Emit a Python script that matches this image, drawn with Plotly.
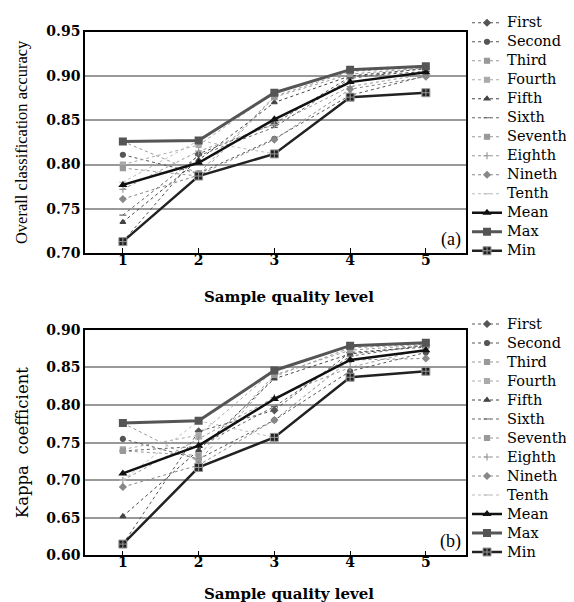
import plotly.graph_objects as go

levels = [1, 2, 3, 4, 5]
run_names = ["First", "Second", "Third", "Fourth", "Fifth", "Sixth",
             "Seventh", "Eighth", "Nineth", "Tenth"]

# Overall classification accuracy (panel a)
oa_runs = [
    [0.713, 0.812, 0.846, 0.899, 0.905],
    [0.811, 0.790, 0.829, 0.878, 0.900],
    [0.826, 0.790, 0.877, 0.905, 0.910],
    [0.800, 0.822, 0.881, 0.907, 0.911],
    [0.735, 0.805, 0.870, 0.900, 0.908],
    [0.743, 0.810, 0.842, 0.897, 0.909],
    [0.796, 0.787, 0.876, 0.902, 0.909],
    [0.772, 0.815, 0.845, 0.888, 0.902],
    [0.761, 0.788, 0.828, 0.885, 0.899],
    [0.780, 0.827, 0.812, 0.876, 0.881],
]
oa_mean = [0.777, 0.802, 0.851, 0.893, 0.904]
oa_max = [0.826, 0.827, 0.881, 0.907, 0.911]
oa_min = [0.713, 0.787, 0.812, 0.876, 0.881]

# Kappa coefficient (panel b)
kappa_runs = [
    [0.615, 0.765, 0.793, 0.870, 0.877],
    [0.755, 0.728, 0.780, 0.845, 0.870],
    [0.776, 0.725, 0.838, 0.876, 0.881],
    [0.741, 0.760, 0.846, 0.879, 0.883],
    [0.652, 0.740, 0.835, 0.868, 0.879],
    [0.739, 0.745, 0.798, 0.865, 0.880],
    [0.739, 0.733, 0.840, 0.873, 0.880],
    [0.700, 0.755, 0.810, 0.850, 0.875],
    [0.691, 0.720, 0.780, 0.860, 0.862],
    [0.700, 0.779, 0.757, 0.837, 0.845],
]
kappa_mean = [0.709, 0.746, 0.808, 0.860, 0.873]
kappa_max = [0.776, 0.779, 0.846, 0.879, 0.883]
kappa_min = [0.615, 0.717, 0.757, 0.837, 0.845]

run_styles = [
    dict(color="#555555", symbol="diamond"),
    dict(color="#555555", symbol="circle"),
    dict(color="#999999", symbol="square-x"),
    dict(color="#aaaaaa", symbol="square"),
    dict(color="#444444", symbol="triangle-up"),
    dict(color="#666666", symbol="line-ew"),
    dict(color="#999999", symbol="square-x"),
    dict(color="#999999", symbol="cross-thin"),
    dict(color="#888888", symbol="diamond"),
    dict(color="#bbbbbb", symbol="line-ew"),
]

SERIF = "DejaVu Serif"
LEG_TXT = "<span style='font-size:14.5px'>{}</span>"
fig = go.Figure()


def add_panel(runs, mean, mx, mn, xa, ya, leg):
    for name, vals, st in zip(run_names, runs, run_styles):
        fig.add_trace(go.Scatter(
            x=levels, y=vals, name=LEG_TXT.format(name), mode="lines+markers",
            xaxis=xa, yaxis=ya, legend=leg,
            line=dict(color=st["color"], width=1, dash="dot"),
            marker=dict(symbol=st["symbol"], size=5, color=st["color"],
                        line=dict(color=st["color"], width=1.2)),
        ))
    fig.add_trace(go.Scatter(
        x=levels, y=mean, name=LEG_TXT.format("Mean"), mode="lines+markers",
        xaxis=xa, yaxis=ya, legend=leg,
        line=dict(color="#111111", width=2.5),
        marker=dict(symbol="triangle-up", size=8, color="#111111")))
    fig.add_trace(go.Scatter(
        x=levels, y=mx, name=LEG_TXT.format("Max"), mode="lines+markers",
        xaxis=xa, yaxis=ya, legend=leg,
        line=dict(color="#555555", width=3),
        marker=dict(symbol="square", size=8, color="#555555")))
    fig.add_trace(go.Scatter(
        x=levels, y=mn, name=LEG_TXT.format("Min"), mode="lines+markers",
        xaxis=xa, yaxis=ya, legend=leg,
        line=dict(color="#222222", width=2.5),
        marker=dict(symbol="square-cross", size=8, color="#222222",
                    line=dict(color="#999999", width=1))))


add_panel(oa_runs, oa_mean, oa_max, oa_min, "x", "y", "legend")
add_panel(kappa_runs, kappa_mean, kappa_max, kappa_min, "x2", "y2", "legend2")

W, H = 574, 602
xdom = [77 / W, 458 / W]
ydom1 = [1 - 243 / H, 1 - 15 / H]
ydom2 = [1 - 554 / H, 1 - 322 / H]

axis_common = dict(showline=True, linecolor="black", linewidth=1.5, mirror=True,
                   zeroline=False,
                   tickfont=dict(family=SERIF, size=14, color="black", weight="bold"))
xcommon = dict(axis_common, range=[0.5, 5.53], tickvals=levels, ticks="inside",
               ticklen=5, tickcolor="black", showgrid=False,
               ticklabelstandoff=-7)
ycommon = dict(axis_common, showgrid=True, gridcolor="#999999", gridwidth=1.5,
               ticks="", tickformat=".2f")

xtitle_font = dict(family=SERIF, size=15, color="black")
panel_font = dict(family="Liberation Serif", size=18, color="black")
legend_common = dict(xanchor="left", yanchor="top",
                     font=dict(family=SERIF, size=12, color="black"),
                     bgcolor="rgba(0,0,0,0)", tracegroupgap=0, itemwidth=30)

fig.update_layout(
    width=W, height=H, margin=dict(l=0, r=0, t=0, b=0),
    paper_bgcolor="white", plot_bgcolor="white",
    xaxis=dict(xcommon, domain=xdom, anchor="y"),
    xaxis2=dict(xcommon, domain=xdom, anchor="y2"),
    yaxis=dict(ycommon, domain=ydom1, anchor="x", range=[0.70, 0.95],
               dtick=0.05,
               title=dict(text="Overall classification accuracy", standoff=15,
                          font=dict(family="Liberation Serif", size=16.5, color="black"))),
    yaxis2=dict(ycommon, domain=ydom2, anchor="x2", range=[0.60, 0.90],
                dtick=0.05,
                title=dict(text="Kappa  coefficient", standoff=14,
                           font=dict(family="DejaVu Serif", size=16.5, color="black"))),
    legend=dict(legend_common, x=459 / W, y=1 + 9 / H),
    legend2=dict(legend_common, x=459 / W, y=1 - 301 / H),
    annotations=[
        dict(text="<b>Sample quality level</b>", x=281 / W, y=1 - 288 / H,
             xref="paper", yref="paper", xanchor="center", yanchor="middle",
             showarrow=False, font=xtitle_font),
        dict(text="<b>Sample quality level</b>", x=281 / W, y=1 - 594 / H,
             xref="paper", yref="paper", xanchor="center", yanchor="middle",
             showarrow=False, font=xtitle_font),
        dict(text="(a)", x=1, y=0, xref="x domain", yref="y domain",
             xanchor="right", yanchor="bottom", xshift=-3, yshift=1, showarrow=False,
             font=panel_font),
        dict(text="(b)", x=1, y=0, xref="x2 domain", yref="y2 domain",
             xanchor="right", yanchor="bottom", xshift=-3, yshift=1, showarrow=False,
             font=panel_font),
    ],
)

fig.write_html("out.html")
